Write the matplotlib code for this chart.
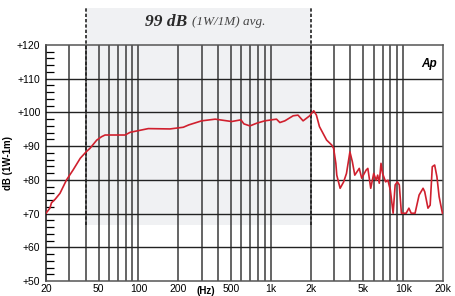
import numpy as np
import matplotlib
matplotlib.use('Agg')
import matplotlib.pyplot as plt
from matplotlib.patches import Rectangle

# frequency response
freq = [20, 21.4, 22.0, 23.4, 25.5, 28.6, 32.0, 36.3, 40.2, 43.1, 48.4, 52.6, 55.9,
        79.2, 86.5, 99.9, 118.5, 173, 218, 240, 300, 380, 506, 594, 626, 695, 782,
        900, 1010, 1104, 1170, 1276, 1475, 1604, 1753, 1967, 2110, 2210, 2330, 2480,
        2640, 2890, 2980, 3100, 3150, 3340, 3550, 3730, 3960, 4130, 4310, 4660, 4860,
        5250, 5410, 5690, 5990, 6250, 6420, 6600, 6800, 6990, 7370, 7670, 8000, 8400,
        8700, 9040, 9350, 9700, 10540, 11050, 11500, 12300, 13200, 14140, 14550, 15400,
        16000, 16600, 17300, 18000, 18700, 19800]
level = [70.1, 71.6, 73.2, 74.2, 76.0, 80.0, 82.9, 86.4, 88.3, 89.4, 91.8, 92.8, 93.3,
         93.3, 94.1, 94.6, 95.2, 95.1, 95.6, 96.3, 97.5, 98.0, 97.3, 97.8, 96.6, 96.0, 96.8,
         97.5, 97.8, 98.0, 97.0, 97.5, 99.0, 99.2, 97.5, 99.0, 100.5, 99.2, 95.8, 93.8,
         91.8, 90.3, 89.4, 84.9, 81.4, 77.5, 79.4, 81.9, 88.3, 85.4, 81.4, 83.4, 80.5,
         82.9, 83.4, 77.5, 81.9, 79.9, 81.4, 79.0, 84.9, 81.9, 79.4, 79.9, 77.0, 70.1,
         78.5, 79.4, 78.5, 70.1, 70.1, 71.6, 70.1, 70.1, 75.5, 77.5, 76.5, 71.6,
         72.5, 83.9, 84.4, 80.9, 75.0, 70.1]

x_grid = [30, 40, 50, 60, 70, 80, 90, 100, 200, 300, 400, 500, 600, 700, 800, 900,
          1000, 2000, 3000, 4000, 5000, 6000, 7000, 8000, 9000, 10000]
x_ticks = [20, 50, 100, 200, 500, 1000, 2000, 5000, 10000, 20000]
x_labels = ['20', '50', '100', '200', '500', '1k', '2k', '5k', '10k', '20k']
y_ticks = [50, 60, 70, 80, 90, 100, 110, 120]
y_labels = ['+50', '+60', '+70', '+80', '+90', '+100', '+110', '+120']

band_lo, band_hi, band_floor = 40, 2000, 66.7

plt.rcParams['font.family'] = ['Liberation Sans', 'DejaVu Sans']

fig = plt.figure(figsize=(4.55, 2.96), dpi=100)
ax = fig.add_axes([0.1011, 0.0507, 0.8725, 0.7973])
ax.set_xscale('log')
ax.set_xlim(20, 20000)
ax.set_ylim(50, 120)

# shaded averaging band, reaching above the plot
ax.add_patch(Rectangle((band_lo, band_floor), band_hi - band_lo, 131 - band_floor,
                       facecolor='#f0f1f3', edgecolor='none', clip_on=False, zorder=0))
for f in (band_lo, band_hi):
    ax.plot([f, f], [band_floor, 131], color='#222222', lw=1.2, ls=(0, (2, 1.2)),
            clip_on=False, zorder=3)

for f in x_grid:
    ax.axvline(f, color='#3a3a3a', lw=1.1, zorder=1)
for v in y_ticks[1:-1]:
    ax.axhline(v, color='#222222', lw=1.0, zorder=1)

ax.plot(freq, level, color='#d0202e', lw=1.2, zorder=4)

ax.set_xticks(x_ticks)
ax.set_xticklabels(x_labels)
ax.xaxis.set_minor_locator(matplotlib.ticker.NullLocator())
ax.set_yticks(y_ticks)
ax.set_yticklabels(y_labels)
ax.set_yticks(np.arange(50, 121, 2), minor=True)
ax.tick_params(axis='x', which='major', length=0, labelsize=7.5, pad=2.5)
ax.tick_params(axis='y', which='major', length=0, labelsize=7.5, pad=4)
ax.tick_params(axis='y', which='minor', direction='in', length=6, width=0.9)

for side in ['top', 'right', 'bottom']:
    ax.spines[side].set_color('#555555')
ax.spines['left'].set_color('#111111')
for s in ax.spines.values():
    s.set_linewidth(1.1)

ax.set_ylabel('dB (1W-1m)', fontsize=7, fontweight='bold', labelpad=3)
ax.text(322, -0.02, '(Hz)', transform=ax.get_xaxis_transform(), ha='center', va='top',
        fontsize=7, fontweight='bold')
ax.text(0.985, 0.945, 'Ap', transform=ax.transAxes, ha='right', va='top',
        fontsize=8.5, fontweight='bold', fontstyle='italic')

ax.text(252, 126.8, '99 dB ', ha='right', va='center', fontsize=12.5, fontweight='bold',
        fontstyle='italic', family='Liberation Serif', color='#2a2a2a')
ax.text(252, 126.8, '(1W/1M) avg.', ha='left', va='center', fontsize=9.5,
        fontstyle='italic', family='Liberation Serif', color='#444444')

fig.savefig('out.png', dpi=100)
